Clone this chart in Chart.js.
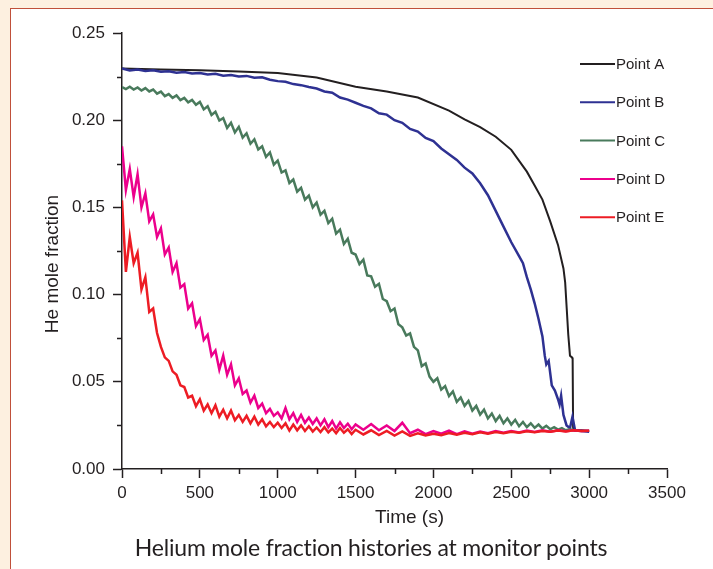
<!DOCTYPE html>
<html>
<head>
<meta charset="utf-8">
<script src="https://cdn.jsdelivr.net/npm/chart.js@4.4.1/dist/chart.umd.min.js"></script>
<style>
  body { margin: 0; background: #fdf0e0; width: 713px; height: 569px; overflow: hidden; position: relative; }
  #panel { position: absolute; left: 10px; top: 8px; right: 0; bottom: 0; background: #fff;
           border-left: 1.5px solid #c0503a; border-top: 1.5px solid #c0503a; }
  #chart { position: absolute; left: 0; top: 0; }
  #caption { position: absolute; left: 0; width: 742px; top: 532px; text-align: center;
             font: 23px "Lato", sans-serif; letter-spacing: -0.2px; color: #231f20; line-height: 30px; }
</style>
</head>
<body>
<div id="panel"></div>
<canvas id="chart" width="713" height="569"></canvas>
<div id="caption">Helium mole fraction histories at monitor points</div>
<script>
// labels
var seriesNames = ["Point A", "Point B", "Point C", "Point D", "Point E"];
var seriesColors = ["#231f20", "#2e3192", "#497a5c", "#ec008c", "#ed1c24"];
var xTitle = "Time (s)";
var yTitle = "He mole fraction";
var xMinor = [250, 750, 1250, 1750, 2250, 2750, 3250];
var yMinor = [0.025, 0.075, 0.125, 0.175, 0.225];

// sample times (s)
function steps(from, to, step) {
  var out = [];
  for (var t = from; t <= to; t += step) out.push(t);
  return out;
}

// Point A - smooth, sudden drop near 2900 s
var timeA = [0, 250, 500, 750, 1000, 1250, 1500, 1700, 1900, 2100, 2200, 2300, 2400, 2500,
  2600, 2650, 2700, 2750, 2800, 2835, 2846, 2856, 2866, 2877, 2890, 2894, 2897, 2900, 2950, 3000];
var heA = [0.2296, 0.2291, 0.2286, 0.2279, 0.2270, 0.2245, 0.2192, 0.2165, 0.2130, 0.2055, 0.2005,
  0.1960, 0.1905, 0.1830, 0.1705, 0.1625, 0.1545, 0.1420, 0.1285, 0.1150, 0.1070, 0.0920, 0.0770,
  0.0650, 0.0640, 0.0630, 0.0240, 0.0222, 0.0222, 0.0220];

// Point B
var timeB = [0, 50, 100, 150, 200, 250, 300, 350, 400, 450, 500, 550, 600, 650, 700, 750, 800, 850,
  900, 950, 1000, 1050, 1100, 1150, 1200, 1250, 1300, 1350, 1400, 1450, 1500, 1550, 1600, 1650,
  1700, 1750, 1800, 1850, 1900, 1950, 2000, 2050, 2100, 2150, 2200, 2250, 2300, 2350, 2400, 2450,
  2500, 2550, 2575, 2600, 2625, 2650, 2675, 2700, 2715, 2725, 2740, 2760, 2780, 2800, 2810, 2820,
  2835, 2855, 2877, 2893, 2910, 2950, 3000];
var heB = [0.2297, 0.2285, 0.2290, 0.2282, 0.2286, 0.2278, 0.2281, 0.2272, 0.2276, 0.2268, 0.2270,
  0.2262, 0.2266, 0.2255, 0.2259, 0.2250, 0.2254, 0.2243, 0.2246, 0.2232, 0.2224, 0.2220, 0.2207,
  0.2201, 0.2190, 0.2182, 0.2165, 0.2158, 0.2130, 0.2118, 0.2100, 0.2082, 0.2068, 0.2040, 0.2032,
  0.2000, 0.1985, 0.1950, 0.1935, 0.1898, 0.1880, 0.1838, 0.1805, 0.1772, 0.1728, 0.1695, 0.1638,
  0.1570, 0.1480, 0.1390, 0.1300, 0.1220, 0.1180, 0.1100, 0.1030, 0.0950, 0.0860, 0.0760, 0.0650,
  0.0600, 0.0620, 0.0480, 0.0450, 0.0400, 0.0370, 0.0420, 0.0310, 0.0250, 0.0235, 0.0300, 0.0220,
  0.0218, 0.0214];

// Point C
var timeC = steps(0, 2900, 25);
var heC = [
  0.2190, 0.2178, 0.2192, 0.2176, 0.2188, 0.2170, 0.2184, 0.2165,
  0.2176, 0.2152, 0.2164, 0.2138, 0.2150, 0.2128, 0.2142, 0.2115,
  0.2128, 0.2102, 0.2116, 0.2088, 0.2105, 0.2062, 0.2080, 0.2030,
  0.2048, 0.1998, 0.2012, 0.1955, 0.1985, 0.1930, 0.1962, 0.1900,
  0.1925, 0.1865, 0.1890, 0.1832, 0.1850, 0.1790, 0.1815, 0.1745,
  0.1768, 0.1700, 0.1712, 0.1640, 0.1660, 0.1590, 0.1612, 0.1545,
  0.1568, 0.1500, 0.1528, 0.1458, 0.1480, 0.1410, 0.1435, 0.1350,
  0.1372, 0.1290, 0.1320, 0.1240, 0.1230, 0.1175, 0.1200, 0.1110,
  0.1105, 0.1045, 0.1062, 0.0975, 0.0962, 0.0905, 0.0920, 0.0830,
  0.0812, 0.0765, 0.0778, 0.0700, 0.0680, 0.0590, 0.0605, 0.0530,
  0.0500, 0.0520, 0.0455, 0.0475, 0.0418, 0.0445, 0.0385, 0.0410,
  0.0362, 0.0390, 0.0335, 0.0362, 0.0312, 0.0340, 0.0290, 0.0318,
  0.0275, 0.0305, 0.0262, 0.0290, 0.0255, 0.0282, 0.0245, 0.0270,
  0.0240, 0.0262, 0.0236, 0.0255, 0.0232, 0.0248, 0.0228, 0.0240,
  0.0226, 0.0234, 0.0222, 0.0228, 0.0222];

// Points D and E share sample times
var timeDE = steps(0, 1500, 25).concat(steps(1550, 3000, 50));
var heD = [
  0.1850, 0.1600, 0.1720, 0.1560, 0.1690, 0.1500, 0.1580, 0.1420, 0.1460, 0.1330,
  0.1380, 0.1230, 0.1270, 0.1130, 0.1180, 0.1040, 0.1060, 0.0920, 0.0950, 0.0820,
  0.0860, 0.0740, 0.0770, 0.0650, 0.0680, 0.0570, 0.0650, 0.0540, 0.0600, 0.0480,
  0.0520, 0.0430, 0.0450, 0.0380, 0.0420, 0.0350, 0.0375, 0.0320, 0.0345, 0.0305,
  0.0325, 0.0290, 0.0350, 0.0285, 0.0320, 0.0270, 0.0310, 0.0265, 0.0295, 0.0258,
  0.0290, 0.0250, 0.0285, 0.0240, 0.0275, 0.0232, 0.0268, 0.0235, 0.0260, 0.0228,
  0.0255,
  0.0225, 0.0258, 0.0222, 0.0250, 0.0218, 0.0265, 0.0205, 0.0225, 0.0200, 0.0218,
  0.0202, 0.0220, 0.0200, 0.0216, 0.0203, 0.0215, 0.0205, 0.0218, 0.0208, 0.0218,
  0.0210, 0.0220, 0.0212, 0.0222, 0.0214, 0.0222, 0.0216, 0.0222, 0.0218, 0.0220];
var heE = [
  0.1540, 0.1130, 0.1330, 0.1180, 0.1240, 0.1030, 0.1100, 0.0900, 0.0920, 0.0780,
  0.0700, 0.0640, 0.0620, 0.0560, 0.0540, 0.0480, 0.0470, 0.0410, 0.0420, 0.0360,
  0.0400, 0.0335, 0.0370, 0.0320, 0.0365, 0.0300, 0.0340, 0.0290, 0.0335, 0.0280,
  0.0310, 0.0270, 0.0305, 0.0262, 0.0300, 0.0255, 0.0285, 0.0245, 0.0270, 0.0240,
  0.0265, 0.0235, 0.0262, 0.0220, 0.0255, 0.0222, 0.0250, 0.0218, 0.0245, 0.0215,
  0.0238, 0.0212, 0.0240, 0.0210, 0.0232, 0.0205, 0.0235, 0.0208, 0.0228, 0.0200,
  0.0225,
  0.0198, 0.0222, 0.0195, 0.0218, 0.0192, 0.0215, 0.0190, 0.0205, 0.0192, 0.0202,
  0.0194, 0.0206, 0.0196, 0.0208, 0.0199, 0.0210, 0.0202, 0.0212, 0.0205, 0.0214,
  0.0208, 0.0216, 0.0211, 0.0218, 0.0213, 0.0220, 0.0215, 0.0222, 0.0218, 0.0220];

var axisColor = "#231f20";
var seriesTimes = [timeA, timeB, timeC, timeDE, timeDE];
var seriesValues = [heA, heB, heC, heD, heE];
var lineWidths = [2, 2.5, 2.5, 2.5, 2.5];

function toPoints(times, values) {
  return times.map(function(t, i) { return { x: t, y: values[i] }; });
}

var datasets = seriesNames.map(function(name, i) {
  return {
    label: name,
    data: toPoints(seriesTimes[i], seriesValues[i]),
    borderColor: seriesColors[i],
    borderWidth: lineWidths[i],
    pointRadius: 0,
    tension: 0,
    order: 5 - i
  };
});

// minor ticks, axis titles and the legend at top right
var extras = {
  id: "extras",
  afterDraw: function(chart) {
    var ctx = chart.ctx;
    var xs = chart.scales.x;
    var ys = chart.scales.y;
    var area = chart.chartArea;
    ctx.save();
    ctx.strokeStyle = axisColor;
    ctx.lineWidth = 1.5;
    ctx.beginPath();
    xMinor.forEach(function(v) {
      var px = Math.round(xs.getPixelForValue(v)) + 0.5;
      ctx.moveTo(px, area.bottom);
      ctx.lineTo(px, area.bottom + 5);
    });
    yMinor.forEach(function(v) {
      var py = Math.round(ys.getPixelForValue(v)) + 0.5;
      ctx.moveTo(area.left, py);
      ctx.lineTo(area.left - 5, py);
    });
    ctx.stroke();

    ctx.fillStyle = axisColor;
    ctx.font = '19px "Liberation Sans"';
    ctx.textAlign = "center";
    ctx.textBaseline = "middle";
    ctx.fillText(xTitle, (area.left + area.right) / 2 + 15, area.bottom + 49);
    ctx.save();
    ctx.translate(area.left - 69, (area.top + area.bottom) / 2 + 13);
    ctx.rotate(-Math.PI / 2);
    ctx.fillText(yTitle, 0, 0);
    ctx.restore();

    ctx.font = '15px "Liberation Sans"';
    ctx.textAlign = "left";
    chart.data.datasets.forEach(function(ds, i) {
      var y = area.top + 31 + i * 38.3;
      ctx.strokeStyle = ds.borderColor;
      ctx.lineWidth = 2;
      ctx.beginPath();
      ctx.moveTo(area.right - 87, y);
      ctx.lineTo(area.right - 52, y);
      ctx.stroke();
      ctx.fillText(ds.label, area.right - 51, y + 1);
    });
    ctx.restore();
  }
};

var chart = new Chart(document.getElementById("chart"), {
  type: "line",
  data: { datasets: datasets },
  options: {
    responsive: false,
    animation: false,
    devicePixelRatio: 1,
    layout: { padding: { top: 33, right: 46, left: 0, bottom: 0 } },
    plugins: { legend: { display: false }, tooltip: { enabled: false } },
    scales: {
      x: {
        type: "linear",
        min: 0,
        max: 3500,
        afterFit: function(scale) { scale.height = 100; },
        ticks: {
          stepSize: 500,
          color: axisColor,
          padding: 5,
          maxRotation: 0,
          font: { family: "Liberation Sans", size: 17 },
          callback: function(v) { return String(v); }
        },
        grid: { drawOnChartArea: false, drawTicks: true, tickLength: 9, tickColor: axisColor, tickWidth: 1.5 },
        border: { display: true, color: axisColor, width: 1.5 }
      },
      y: {
        type: "linear",
        min: 0,
        max: 0.25,
        afterFit: function(scale) { scale.width = 122; },
        ticks: {
          stepSize: 0.05,
          color: axisColor,
          padding: 8,
          font: { family: "Liberation Sans", size: 17 },
          callback: function(v) { return Number(v).toFixed(2); }
        },
        grid: { drawOnChartArea: false, drawTicks: true, tickLength: 9, tickColor: axisColor, tickWidth: 1.5 },
        border: { display: true, color: axisColor, width: 1.5 }
      }
    }
  },
  plugins: [extras]
});
</script>
</body>
</html>
